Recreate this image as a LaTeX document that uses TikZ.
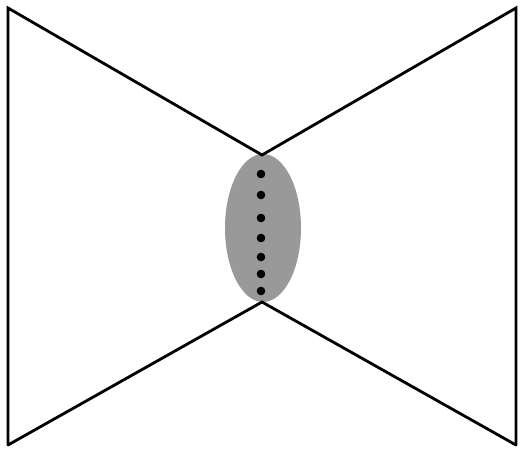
\documentclass[tikz,border=0pt]{standalone}
\tikzset{
  edge/.style={line width=1.6pt, line cap=round, line join=miter},
  blob/.style={fill=black!40, draw=none},
  dot/.style={fill=black, draw=none},
}
\begin{document}
\begin{tikzpicture}[x=0.02cm, y=-0.02cm]
  \useasboundingbox (0,0) rectangle (520,450);
  \coordinate (tl) at (8,8);
  \coordinate (bl) at (8,445);
  \coordinate (tr) at (516,8);
  \coordinate (br) at (516,445);
  \coordinate (top) at (262,155);
  \coordinate (bot) at (262,302);
  \fill[blob] (263,228) ellipse [x radius=38, y radius=74];
  \draw[edge] (bl) -- (tl) -- (top) -- (tr) -- (br);
  \draw[edge] (bl) -- (bot) -- (br);
  \foreach \y in {174,195,218,238,257,274,291}
    \fill[dot] (261,\y) circle [radius=4.3];
\end{tikzpicture}
\end{document}
